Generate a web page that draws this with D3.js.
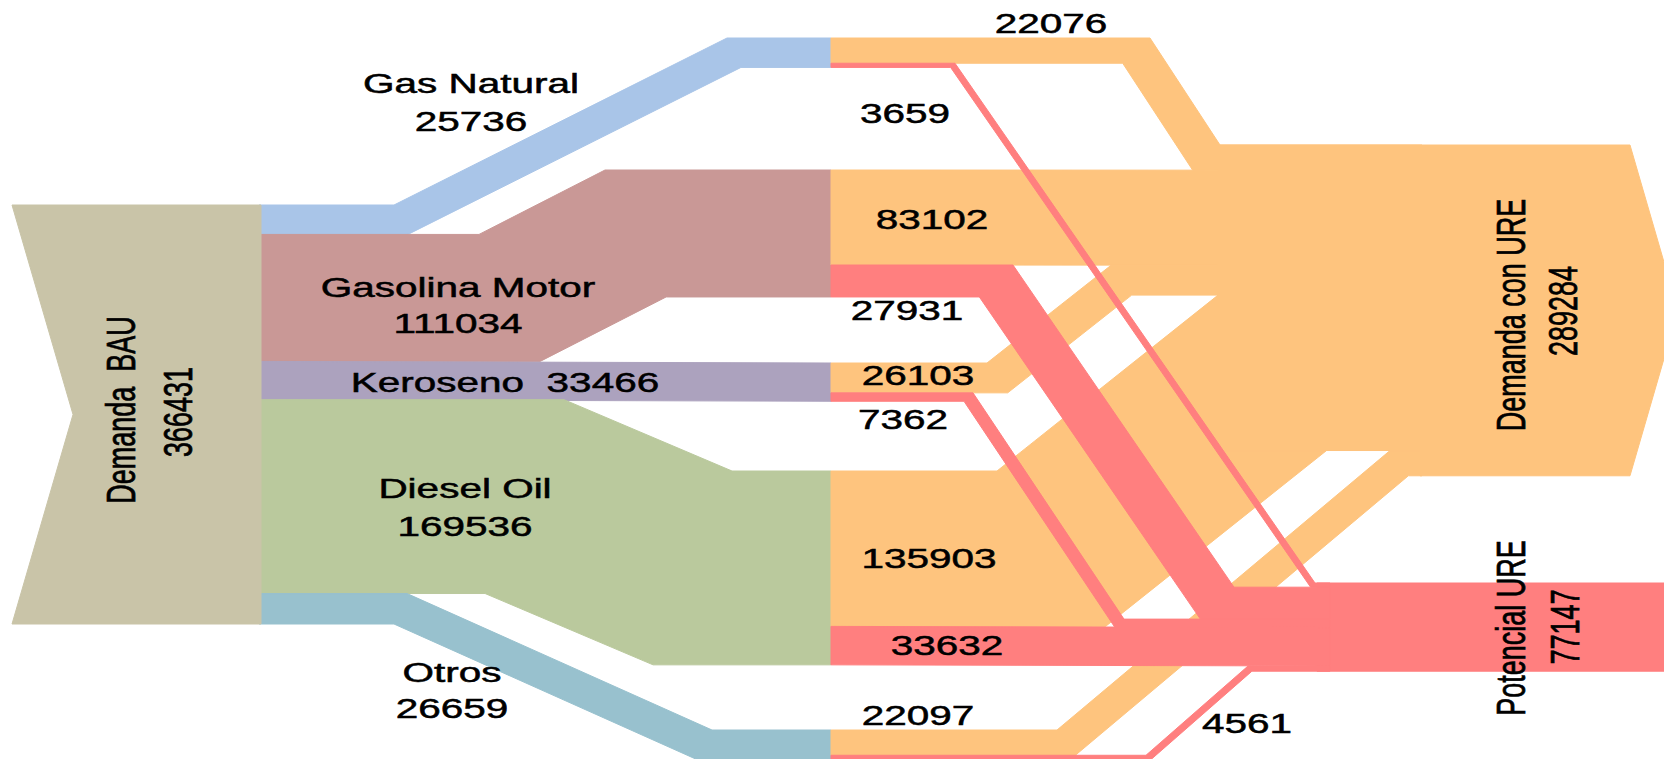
<!DOCTYPE html>
<html>
<head>
<meta charset="utf-8">
<script src="https://d3js.org/d3.v7.min.js"></script>
<style>
  html, body { margin: 0; padding: 0; background: #fff; overflow: hidden; }
  svg { display: block; }
  text { font-family: "Comic Sans MS", "Liberation Sans", Arial, sans-serif; font-size: 27px; fill: #000;
         stroke: #000; stroke-width: 0.5px; white-space: pre; }
</style>
</head>
<body>
<div class="chart"></div>
<script>
// data
var fuels = ["Gas Natural", "Gasolina Motor", "Keroseno", "Diesel Oil", "Otros"];
var fuelTotals = [25736, 111034, 33466, 169536, 26659];
var conURE = [22076, 83102, 26103, 135903, 22097];
var potencial = [3659, 27931, 7362, 33632, 4561];
var totalBAU = 366431;
var totalConURE = 289284;
var totalPotencial = 77147;

var colors = ["#a9c5e8", "#c99896", "#aca2be", "#bac99d", "#98c1ce"];
var bauColor = "#c9c4a8", ureColor = "#fec47e", potColor = "#ff7f7f";

// layout
var W = 1664, H = 759;
var col = { bauLeft: 12, bauNotch: 73, bauRight: 261, mid: 831,
            ureIn: 1218, ureLeft: 1420, ureRight: 1630, ureTip: 1678, potLeft: 1317, potRight: 1680 };
var bauTop = 205, ureTop = 145, potTop = 583;
var midTop = [38, 170, 363, 471, 730];
var fuelBends = [[394, 727], [479, 605], null, [564, 732], [407, 712]];
var ureBends = [[1150, 1220], null, [987, 1111], [997, 1218], [1057, 1390]];
var potBends = [[955, 1315], [1013, 1234], [973, 1124], null, [1146, 1248]];

var thick = d3.scaleLinear().domain([0, totalBAU]).range([0, 419]);

var svg = d3.select(".chart").append("svg")
  .attr("width", W).attr("height", H);

// band polygon: horizontal, diagonal, horizontal
function band(x0, y0, x1, y1, t, bends) {
  if (!bends) {
    return [[x0, y0], [x1, y1], [x1, y1 + t], [x0, y0 + t]];
  }
  var bx1 = bends[0], bx2 = bends[1];
  var m = (y1 - y0) / (bx2 - bx1);
  var th = Math.atan(Math.abs(m));
  var d = -Math.sign(m) * 2 * t * Math.tan(th / 2);
  return [[x0, y0], [bx1, y0], [bx2, y1], [x1, y1],
          [x1, y1 + t], [bx2 + d, y1 + t], [bx1 + d, y0 + t], [x0, y0 + t]];
}

function poly(pts, fill) {
  svg.append("polygon")
    .attr("points", pts.map(function(p) { return p.join(","); }).join(" "))
    .attr("fill", fill)
    .attr("stroke", fill)
    .attr("stroke-width", 1)
    .attr("stroke-linejoin", "round");
}

// left stack
var leftCum = d3.cumsum([0].concat(fuelTotals));
var bauH = thick(totalBAU);

// fuel bands BAU -> middle
fuels.forEach(function(f, i) {
  var y0 = bauTop + thick(leftCum[i]);
  poly(band(col.bauRight - 2, y0, col.mid, midTop[i], thick(fuelTotals[i]), fuelBends[i]), colors[i]);
});

// Demanda BAU node
poly([[col.bauLeft, bauTop], [col.bauRight, bauTop], [col.bauRight, bauTop + bauH],
      [col.bauLeft, bauTop + bauH], [col.bauNotch, bauTop + bauH / 2]], bauColor);

// orange flows
var ureCum = d3.cumsum([0].concat(conURE));
conURE.forEach(function(v, i) {
  poly(band(col.mid, midTop[i], col.ureLeft + 2, ureTop + thick(ureCum[i]), thick(v), ureBends[i]), ureColor);
});

// Demanda con URE node (drawn over the band ends)
var ureH = thick(totalConURE);
var ureStep = ureTop + thick(totalConURE - conURE[conURE.length - 1]);
poly([[col.ureIn, ureTop], [col.ureRight, ureTop], [col.ureTip, ureTop + ureH / 2],
      [col.ureRight, ureTop + ureH], [col.ureLeft, ureTop + ureH], [col.ureLeft, ureStep],
      [col.ureIn, ureStep]], ureColor);

// Potencial URE node
var potH = thick(totalPotencial);
poly([[col.potLeft, potTop], [col.potRight, potTop], [col.potRight, potTop + potH], [col.potLeft, potTop + potH]], potColor);

// red flows
var potCum = d3.cumsum([0].concat(potencial));
potencial.forEach(function(v, i) {
  var y0 = midTop[i] + thick(conURE[i]);
  poly(band(col.mid, y0, col.potLeft + 13, potTop + thick(potCum[i]), thick(v), potBends[i]), potColor);
});

// labels
var sx = 1.5;
function label(txt, x, y) {
  svg.append("text")
    .attr("transform", "translate(" + x + "," + y + ") scale(" + sx + ",1)")
    .attr("text-anchor", "middle")
    .text(txt);
}
function vlabel(txt, x, y) {
  svg.append("text")
    .attr("transform", "translate(" + x + "," + y + ") scale(" + sx + ",1) rotate(-90)")
    .attr("text-anchor", "middle")
    .text(txt);
}

var fuelLabelPos = [[471, 93, 131], [458, 297, 333], [505, 392, null], [465, 498, 536], [452, 682, 718]];
fuels.forEach(function(f, i) {
  var p = fuelLabelPos[i];
  if (p[2] === null) {
    label(f + "  " + fuelTotals[i], p[0], p[1]);
  } else {
    label(f, p[0], p[1]);
    label(String(fuelTotals[i]), p[0], p[2]);
  }
});

var ureLabelPos = [[1051, 33], [932, 229], [918, 385], [929, 568], [918, 725]];
var potLabelPos = [[905, 123], [907, 320], [903, 429], [947, 655], [1247, 733]];
conURE.forEach(function(v, i) { label(String(v), ureLabelPos[i][0], ureLabelPos[i][1]); });
potencial.forEach(function(v, i) { label(String(v), potLabelPos[i][0], potLabelPos[i][1]); });

vlabel("Demanda  BAU", 135, 410);
vlabel(String(totalBAU), 192, 412);
vlabel("Demanda con URE", 1525, 315);
vlabel(String(totalConURE), 1577, 311);
vlabel("Potencial URE", 1525, 628);
vlabel(String(totalPotencial), 1579, 627);
</script>
</body>
</html>
